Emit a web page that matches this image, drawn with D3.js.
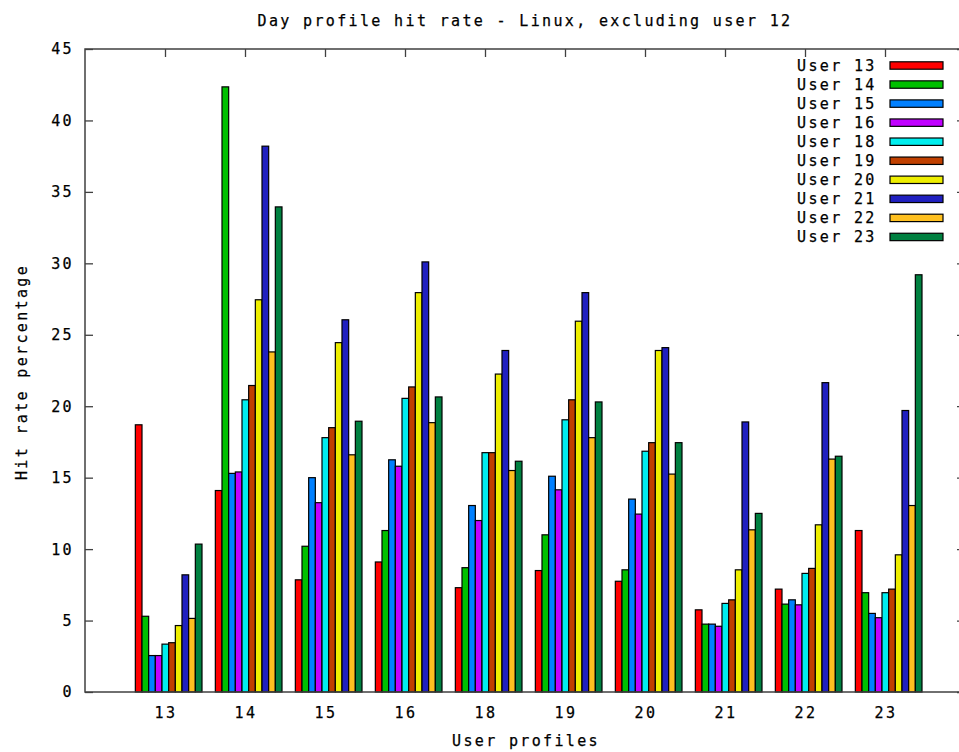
<!DOCTYPE html>
<html>
<head>
<meta charset="utf-8">
<script src="https://cdn.jsdelivr.net/npm/d3@7/dist/d3.min.js"></script>
<style>
	body { margin: 0; background: #fff; }
	svg text { font-family: "DejaVu Sans Mono", monospace; font-size: 15px; fill: #000; letter-spacing: 2.35px; stroke: #000; stroke-width: 0.25px; }
</style>
</head>
<body>
<div id="chart"><svg width="959" height="752"></svg></div>
<script>
// data
const categories = ["13", "14", "15", "16", "18", "19", "20", "21", "22", "23"];
const seriesNames = ["User 13", "User 14", "User 15", "User 16", "User 18", "User 19", "User 20", "User 21", "User 22", "User 23"];
const seriesColors = ["#ff0000", "#00c000", "#0080ff", "#c000ff", "#00eeee", "#c04000", "#eeee00", "#2020c0", "#ffc020", "#008040"];

// one array per series, values per category (13 .. 23)
const user13 = [18.7, 14.1, 7.85, 9.1, 7.3, 8.5, 7.75, 5.75, 7.2, 11.3];
const user14 = [5.3, 42.35, 10.2, 11.3, 8.7, 11.0, 8.55, 4.75, 6.15, 6.95];
const user15 = [2.55, 15.3, 15.0, 16.25, 13.05, 15.1, 13.5, 4.75, 6.45, 5.5];
const user16 = [2.55, 15.4, 13.25, 15.8, 12.0, 14.15, 12.45, 4.6, 6.1, 5.2];
const user18 = [3.35, 20.45, 17.8, 20.55, 16.75, 19.05, 16.85, 6.2, 8.3, 6.95];
const user19 = [3.45, 21.45, 18.5, 21.35, 16.75, 20.45, 17.45, 6.45, 8.65, 7.2];
const user20 = [4.65, 27.45, 24.45, 27.95, 22.25, 25.95, 23.9, 8.55, 11.7, 9.6];
const user21 = [8.2, 38.2, 26.05, 30.1, 23.9, 27.95, 24.1, 18.9, 21.65, 19.7];
const user22 = [5.15, 23.8, 16.6, 18.85, 15.5, 17.8, 15.25, 11.35, 16.3, 13.05];
const user23 = [10.35, 33.95, 18.95, 20.65, 16.15, 20.3, 17.45, 12.5, 16.5, 29.2];
const seriesValues = [user13, user14, user15, user16, user18, user19, user20, user21, user22, user23];

const yTicks = [0, 5, 10, 15, 20, 25, 30, 35, 40, 45];

// setup
const svg = d3.select("#chart").select("svg");
const margin = {top: 49, left: 85, bottom: 692};
const plotRight = 965;   // right border sits just past the window edge
const BORDER = "#404040";
const TICK = 8;

// scales
const xScale = d3.scaleLinear()
	.domain([-1, categories.length])
	.range([margin.left, plotRight]);

const yScale = d3.scaleLinear()
	.domain([0, 45])
	.range([margin.bottom, margin.top]);

const nSeries = seriesNames.length;
const boxW = 1 / (nSeries + 2);       // gnuplot style clustered gap of 2
const clusterOffset = -4.45 * boxW;

const bars = [];
seriesValues.forEach((vals, j) => {
	vals.forEach((v, i) => bars.push({i: i, j: j, value: v}));
});

// y ticks, left and mirrored on the right
const yAxisL = svg.append("g")
	.attr("transform", `translate(${margin.left},0)`)
	.call(d3.axisRight(yScale).tickValues(yTicks).tickSize(TICK).tickFormat(""));
const yAxisR = svg.append("g")
	.attr("transform", `translate(${plotRight},0)`)
	.call(d3.axisLeft(yScale).tickValues(yTicks).tickSize(TICK).tickFormat(""));

// x ticks, top and bottom
const xAxisT = svg.append("g")
	.attr("transform", `translate(0,${margin.top})`)
	.call(d3.axisBottom(xScale).tickValues(d3.range(categories.length)).tickSize(TICK).tickFormat(""));
const xAxisB = svg.append("g")
	.attr("transform", `translate(0,${margin.bottom})`)
	.call(d3.axisTop(xScale).tickValues(d3.range(categories.length)).tickSize(TICK).tickFormat(""));

[yAxisL, yAxisR, xAxisT, xAxisB].forEach(g => {
	g.select(".domain").remove();
	g.selectAll("line").attr("stroke", BORDER).attr("stroke-width", 1.3);
});

// y tick labels
svg.selectAll(".yLabel")
  .data(yTicks)
	.enter()
  .append("text")
	.attr("class", "yLabel")
	.attr("x", 74)
	.attr("y", d => yScale(d))
	.attr("dy", "0.36em")
	.attr("text-anchor", "end")
	.text(d => d);

// x tick labels
svg.selectAll(".xLabel")
  .data(categories)
	.enter()
  .append("text")
	.attr("class", "xLabel")
	.attr("x", (d, i) => xScale(i) + 1)
	.attr("y", 718)
	.attr("text-anchor", "middle")
	.text(d => d);

// bars
svg.append("g").selectAll("rect")
  .data(bars)
	.enter()
  .append("rect")
	.attr("x", d => xScale(d.i + clusterOffset + d.j * boxW))
	.attr("width", xScale(boxW) - xScale(0))
	.attr("y", d => yScale(d.value))
	.attr("height", d => yScale(0) - yScale(d.value))
	.attr("fill", d => seriesColors[d.j])
	.attr("stroke", "#000")
	.attr("stroke-width", 1.2);

// border (left, top, bottom; right is off-canvas)
svg.append("rect")
	.attr("x", margin.left)
	.attr("y", margin.top)
	.attr("width", plotRight - margin.left)
	.attr("height", margin.bottom - margin.top)
	.attr("fill", "none")
	.attr("stroke", BORDER)
	.attr("stroke-width", 1.5);

// legend
const legend = svg.append("g");
const legendRows = legend.selectAll("g")
  .data(seriesNames)
	.enter()
  .append("g")
	.attr("transform", (d, j) => `translate(0, ${65.5 + j * 19.05})`);

legendRows.append("text")
	.attr("x", 797)
	.attr("y", 0)
	.attr("dy", "0.36em")
	.text(d => d);

legendRows.append("rect")
	.attr("x", 890)
	.attr("y", -3.7)
	.attr("width", 53)
	.attr("height", 7.4)
	.attr("fill", (d, j) => seriesColors[j])
	.attr("stroke", "#000")
	.attr("stroke-width", 1.2);

// titles
svg.append("text")
	.attr("x", 525)
	.attr("y", 26)
	.attr("text-anchor", "middle")
	.text("Day profile hit rate - Linux, excluding user 12");

svg.append("text")
	.attr("x", 526)
	.attr("y", 746)
	.attr("text-anchor", "middle")
	.text("User profiles");

svg.append("text")
	.attr("transform", "translate(27, 372) rotate(-90)")
	.attr("text-anchor", "middle")
	.text("Hit rate percentage");
</script>
</body>
</html>
